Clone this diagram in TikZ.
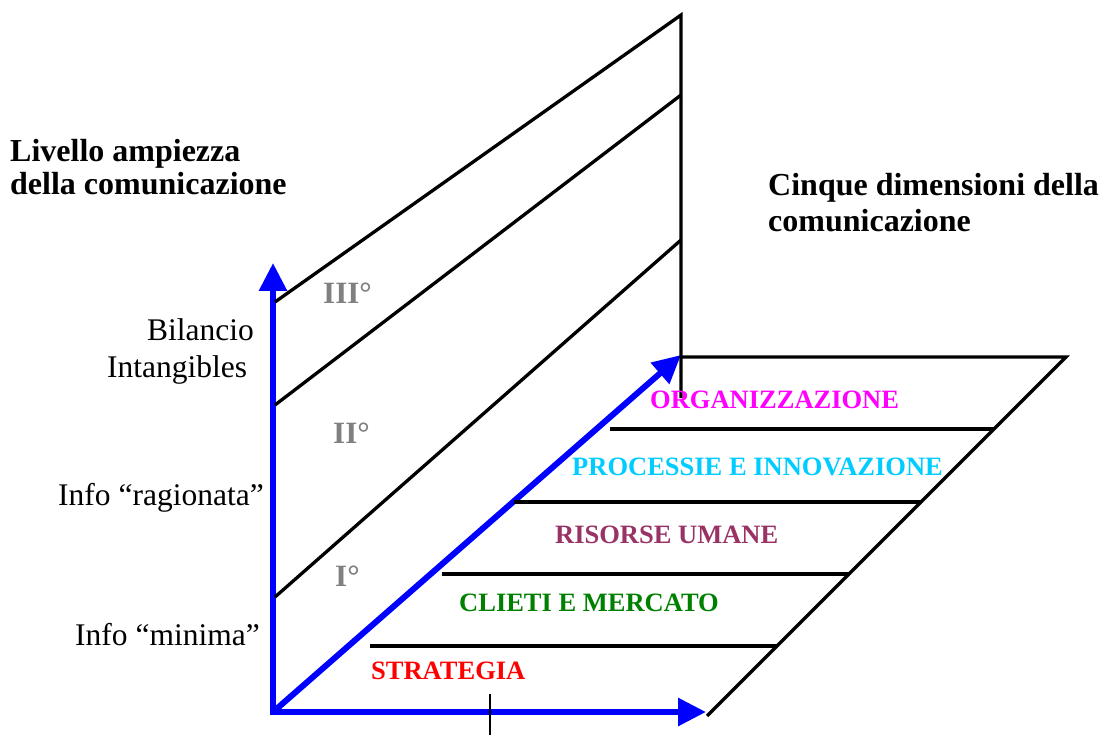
\documentclass[tikz,border=0pt]{standalone}
\usepackage{fontspec}
\setmainfont{Liberation Serif}
\usetikzlibrary{arrows.meta}
\definecolor{axisblue}{RGB}{0,0,255}
\definecolor{gradegrey}{RGB}{128,128,128}
\definecolor{orgmag}{RGB}{255,0,255}
\definecolor{proccyan}{RGB}{0,204,255}
\definecolor{hrpurple}{RGB}{153,51,102}
\definecolor{mktgreen}{RGB}{0,128,0}
\definecolor{strred}{RGB}{255,0,0}
\begin{document}
\begin{tikzpicture}[x=1pt,y=-1pt,
  axisarrow/.style={draw=axisblue, line width=6pt, -{Triangle[length=28pt,width=27pt]}},
  plane/.style={draw=black, line width=3.3pt, line join=miter},
  ticker/.style={draw=black, line width=1.5pt},
  plain/.style={font=\fontsize{31.5}{37}\selectfont, inner sep=0pt, anchor=base west},
  heading/.style={font=\fontsize{32}{37}\selectfont\bfseries, inner sep=0pt, anchor=base west},
  grade/.style={font=\fontsize{31}{37}\selectfont\bfseries, text=gradegrey, inner sep=0pt, anchor=base west},
  dimlabel/.style={font=\fontsize{26.5}{30}\selectfont\bfseries, inner sep=0pt, anchor=base west}]
\useasboundingbox (0,0) rectangle (1100,735);

% coordinates
\coordinate (O) at (273,712);
\coordinate (Ov) at (273,715);
\coordinate (Oh) at (270,712);
\coordinate (Vtip) at (273,263);
\coordinate (Htip) at (706,712);
\coordinate (Dtip) at (681,355);
\coordinate (A1) at (275,302);
\coordinate (A2) at (681,15);
\coordinate (B1) at (275,405);
\coordinate (B2) at (681,95);
\coordinate (C1) at (275,597);
\coordinate (C2) at (681,240);
\coordinate (Vbot) at (681,398);
\coordinate (P1) at (681,357);
\coordinate (P2) at (1066,357);
\coordinate (P3) at (707,716);
\coordinate (L1a) at (610,429);
\coordinate (L1b) at (994,429);
\coordinate (L2a) at (514,502);
\coordinate (L2b) at (921,502);
\coordinate (L3a) at (442,574);
\coordinate (L3b) at (849,574);
\coordinate (L4a) at (370,646);
\coordinate (L4b) at (777,646);
\coordinate (T1) at (490,694);
\coordinate (T2) at (490,735);

% blue axes
\draw[axisarrow] (Ov) -- (Vtip);
\draw[axisarrow] (Oh) -- (Htip);
\draw[axisarrow] (O) -- (Dtip);

% vertical plane
\draw[plane] (A1) -- (A2) -- (Vbot);
\draw[plane] (B1) -- (B2);
\draw[plane] (C1) -- (C2);

% horizontal plane
\draw[plane] (P1) -- (P2) -- (P3);
\draw[plane] (L1a) -- (L1b);
\draw[plane] (L2a) -- (L2b);
\draw[plane] (L3a) -- (L3b);
\draw[plane] (L4a) -- (L4b);

% tick
\draw[ticker] (T1) -- (T2);

% headings
\node[heading] (h1a) at (10,162) {Livello ampiezza};
\node[heading] (h1b) at (10,195) {della comunicazione};
\node[heading] (h2a) at (768,196) {Cinque dimensioni della};
\node[heading] (h2b) at (768,232) {comunicazione};

% level labels
\node[plain] (bil) at (147,340) {Bilancio};
\node[plain] (intg) at (107,377) {Intangibles};
\node[plain] (rag) at (58,505) {Info “ragionata”};
\node[plain] (min) at (75,645) {Info “minima”};

% grades
\node[grade] (g3) at (323,303) {III°};
\node[grade] (g2) at (333,443) {II°};
\node[grade] (g1) at (335,586) {I°};

% dimensions
\node[dimlabel, text=orgmag] (org) at (650,408) {ORGANIZZAZIONE};
\node[dimlabel, text=proccyan] (proc) at (572,475) {PROCESSIE E INNOVAZIONE};
\node[dimlabel, text=hrpurple] (hr) at (555,543) {RISORSE UMANE};
\node[dimlabel, text=mktgreen] (mkt) at (459,611) {CLIETI E MERCATO};
\node[dimlabel, text=strred] (str) at (371,679) {STRATEGIA};
\end{tikzpicture}
\end{document}
